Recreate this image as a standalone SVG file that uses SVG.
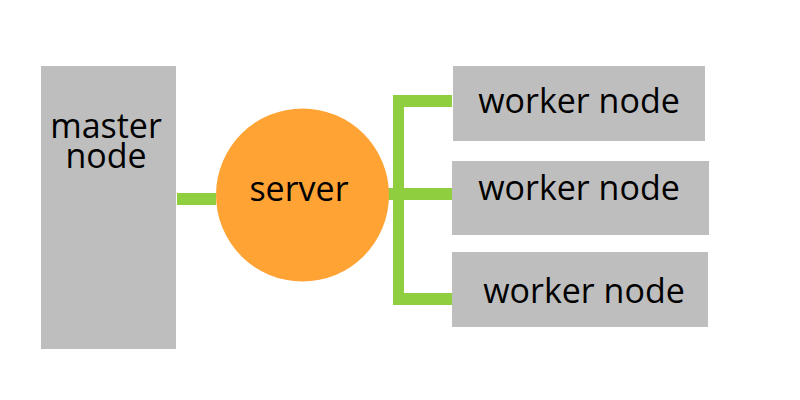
<svg xmlns="http://www.w3.org/2000/svg" width="800" height="400" viewBox="0 0 800 400">
<style>
.box{fill:#bebebe}
.lbl{font-family:"Open Sans","DejaVu Sans",sans-serif;font-size:34px;fill:#000}
.wire{fill:#8fce3f}
</style>
<rect width="800" height="400" fill="#fff"/>
<g id="connectors">
<rect class="wire" x="177" y="193" width="39" height="12"/>
<rect class="wire" x="393" y="95" width="11" height="210"/>
<rect class="wire" x="393" y="95" width="59" height="12"/>
<rect class="wire" x="386" y="188" width="67" height="12"/>
<rect class="wire" x="393" y="293" width="59" height="12"/>
</g>
<g id="master">
<rect class="box" x="41" y="66" width="135" height="283"/>
<text class="lbl" x="106" y="138" text-anchor="middle">master</text>
<text class="lbl" x="106" y="168" text-anchor="middle">node</text>
</g>
<g id="server">
<circle cx="302.5" cy="195" r="86.5" fill="#ffa335"/>
<text class="lbl" x="299" y="201" text-anchor="middle">server</text>
</g>
<g id="worker1">
<rect class="box" x="453" y="66" width="252" height="75"/>
<text class="lbl" x="579" y="113" text-anchor="middle">worker node</text>
</g>
<g id="worker2">
<rect class="box" x="452" y="161" width="257" height="74"/>
<text class="lbl" x="579" y="200" text-anchor="middle">worker node</text>
</g>
<g id="worker3">
<rect class="box" x="452" y="252" width="256" height="75"/>
<text class="lbl" x="584" y="303" text-anchor="middle">worker node</text>
</g>
</svg>
